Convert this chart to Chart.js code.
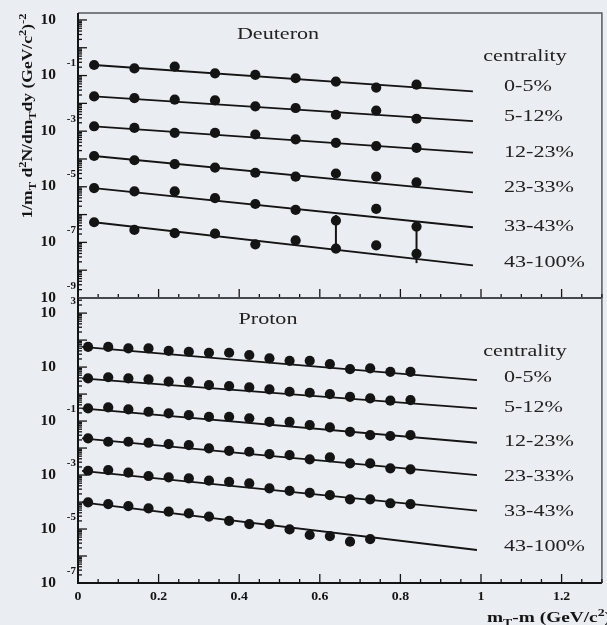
<!DOCTYPE html>
<html>
<head>
<meta charset="utf-8">
<script src="https://cdn.jsdelivr.net/npm/chart.js@4.4.1/dist/chart.umd.min.js"></script>
<style>
  html, body { margin: 0; padding: 0; background: #eaedf2; }
  #wrap { position: relative; width: 607px; height: 625px; overflow: hidden; }
  #topPanel { position: absolute; left: 0; top: 0; }
  #botPanel { position: absolute; left: 0; top: 290px; }
</style>
</head>
<body>
<div id="wrap">
  <canvas id="topPanel" width="607" height="310"></canvas>
  <canvas id="botPanel" width="607" height="335"></canvas>
</div>
<script>
const centralities = ['0-5%', '5-12%', '12-23%', '23-33%', '33-43%', '43-100%'];

// ---- deuteron spectra (9 mT-m bins) ----
const deuteronX = [0.04, 0.14, 0.24, 0.34, 0.44, 0.54, 0.64, 0.74, 0.84];
const deut_0_5   = [2.4e-1, 1.8e-1, 2.1e-1, 1.2e-1, 1.06e-1, 8.0e-2, 6.1e-2, 3.7e-2, 4.7e-2];
const deut_5_12  = [1.78e-2, 1.55e-2, 1.36e-2, 1.28e-2, 7.8e-3, 6.8e-3, 3.9e-3, 5.5e-3, 2.8e-3];
const deut_12_23 = [1.5e-3, 1.31e-3, 8.7e-4, 8.7e-4, 7.6e-4, 5.1e-4, 3.8e-4, 2.9e-4, 2.5e-4];
const deut_23_33 = [1.28e-4, 9.0e-5, 6.5e-5, 4.9e-5, 3.2e-5, 2.3e-5, 3.0e-5, 2.3e-5, 1.43e-5];
const deut_33_43 = [9.0e-6, 6.8e-6, 6.8e-6, 3.9e-6, 2.4e-6, 1.47e-6, 6.1e-7, 1.6e-6, 3.7e-7];
const deut_43_100 = [5.3e-7, 2.8e-7, 2.15e-7, 2.05e-7, 8.5e-8, 1.18e-7, 6.0e-8, 7.8e-8, 3.9e-8];

// exponential fits: value at both ends of the drawn line
const deuteronFitX = [0.04, 0.98];
const deuteronFitStart = [2.4e-1, 1.78e-2, 1.5e-3, 1.28e-4, 9.0e-6, 5.3e-7];
const deuteronFitEnd   = [2.7e-2, 2.28e-3, 1.68e-4, 6.3e-6, 3.5e-7, 1.5e-8];

// the two large error bars (row, bin, high, low)
const deuteronErrRow  = [4, 5];
const deuteronErrBin  = [6, 8];
const deuteronErrHigh = [9.7e-7, 3.9e-7];
const deuteronErrLow  = [8.1e-8, 1.8e-8];

// ---- proton spectra (17 mT-m bins, most peripheral has 15) ----
const protonX = [0.025, 0.075, 0.125, 0.175, 0.225, 0.275, 0.325, 0.375, 0.425,
                 0.475, 0.525, 0.575, 0.625, 0.675, 0.725, 0.775, 0.825];
const prot_0_5   = [56, 56, 49, 49, 40, 37, 34, 34, 28, 21, 17, 17, 12.9, 8.4, 9.0, 6.7, 6.7];
const prot_5_12  = [3.8, 4.2, 3.8, 3.5, 2.9, 2.9, 2.15, 1.98, 1.77, 1.49, 1.22, 1.12, 1.0, 0.79, 0.69, 0.57, 0.60];
const prot_12_23 = [0.295, 0.321, 0.271, 0.221, 0.193, 0.167, 0.144, 0.144, 0.126, 0.094, 0.094, 0.071, 0.058, 0.040, 0.030, 0.028, 0.030];
const prot_23_33 = [0.0229, 0.0171, 0.0171, 0.0157, 0.0141, 0.0129, 0.00975, 0.0079, 0.0073, 0.0060, 0.0055, 0.0038, 0.0045, 0.0027, 0.0027, 0.00177, 0.00163];
const prot_33_43 = [1.44e-3, 1.53e-3, 1.22e-3, 9.2e-4, 8.2e-4, 7.5e-4, 6.2e-4, 5.6e-4, 4.9e-4, 3.2e-4, 2.6e-4, 2.2e-4, 1.8e-4, 1.26e-4, 1.26e-4, 9.0e-5, 8.4e-5];
const prot_43_100 = [9.7e-5, 8.4e-5, 7.1e-5, 5.8e-5, 4.4e-5, 3.8e-5, 2.9e-5, 2.0e-5, 1.53e-5, 1.53e-5, 9.7e-6, 6.0e-6, 5.5e-6, 3.4e-6, 4.2e-6];

const protonFitX = [0.01, 0.99];
const protonFitStart = [56.5, 3.81, 0.295, 0.0229, 1.44e-3, 9.7e-5];
const protonFitEnd   = [3.3, 0.295, 0.0157, 0.001, 4.8e-5, 1.67e-6];

// ---- axes ----
const xTickValues = [0, 0.2, 0.4, 0.6, 0.8, 1, 1.2];
const xTickLabels = ['0', '0.2', '0.4', '0.6', '0.8', '1', '1.2'];
const deuteronYExp = [1, -1, -3, -5, -7, -9];
const protonYExp   = [3, 1, -1, -3, -5, -7];

const INK = '#141414';
const SERIF = '"Liberation Serif", "Times New Roman", serif';

function makeDatasets(xs, rows, fitX, fitStart, fitEnd) {
  const sets = [];
  rows.forEach((row, i) => {
    sets.push({
      label: centralities[i] + ' fit',
      data: [{x: fitX[0], y: fitStart[i]}, {x: fitX[1], y: fitEnd[i]}],
      showLine: true, borderColor: INK, borderWidth: 1.8, pointRadius: 0
    });
    sets.push({
      label: centralities[i],
      data: row.map((v, j) => ({x: xs[j], y: v})),
      showLine: false, pointRadius: 5.1, pointBackgroundColor: INK,
      pointBorderColor: INK, pointBorderWidth: 0
    });
  });
  return sets;
}

// stretched text, the scan is wider than plain Times
function stretchText(ctx, txt, x, y, font, align, sx) {
  ctx.save();
  ctx.translate(x, y);
  ctx.scale(sx, 1);
  ctx.font = font;
  ctx.textAlign = align;
  ctx.textBaseline = 'middle';
  ctx.fillText(txt, 0, 0);
  ctx.restore();
}

// text with sub/superscripts, parts = [text, shift]
function richText(ctx, parts, x, y, size, targetLen, align) {
  const fontFor = s => 'bold ' + (s ? Math.round(size * 0.7) : size) + 'px ' + SERIF;
  let w = 0;
  parts.forEach(p => { ctx.font = fontFor(p[1]); w += ctx.measureText(p[0]).width; });
  const sx = targetLen ? targetLen / w : 1;
  ctx.save();
  ctx.translate(x, y);
  ctx.scale(sx, 1);
  ctx.textAlign = 'left';
  ctx.textBaseline = 'alphabetic';
  let cx = align === 'center' ? -w / 2 : 0;
  parts.forEach(p => {
    ctx.font = fontFor(p[1]);
    const dy = p[1] > 0 ? -size * 0.42 : (p[1] < 0 ? size * 0.28 : 0);
    ctx.fillText(p[0], cx, dy);
    cx += ctx.measureText(p[0]).width;
  });
  ctx.restore();
}

function panelPlugin(cfg) {
  return {
    id: 'panel',
    afterDatasetsDraw(chart) {
      const ctx = chart.ctx, a = chart.chartArea;
      const xs = chart.scales.x, ys = chart.scales.y;
      const oy = cfg.offsetY;
      ctx.save();
      ctx.fillStyle = INK;
      ctx.strokeStyle = INK;

      // error bars
      if (cfg.errRow) {
        ctx.lineWidth = 2;
        cfg.errRow.forEach((r, i) => {
          const px = xs.getPixelForValue(cfg.xs[cfg.errBin[i]]);
          ctx.beginPath();
          ctx.moveTo(px, ys.getPixelForValue(cfg.errHigh[i]));
          ctx.lineTo(px, ys.getPixelForValue(cfg.errLow[i]));
          ctx.stroke();
        });
      }

      // frame
      ctx.strokeStyle = '#555a60';
      ctx.lineWidth = 1.5;
      ctx.beginPath();
      ctx.moveTo(a.left, a.top); ctx.lineTo(a.right, a.top); ctx.lineTo(a.right, a.bottom);
      ctx.stroke();
      ctx.strokeStyle = INK;
      ctx.lineWidth = 2;
      ctx.beginPath();
      ctx.moveTo(a.left, a.top); ctx.lineTo(a.left, a.bottom); ctx.lineTo(a.right, a.bottom);
      ctx.stroke();

      // x ticks pointing inwards, 4 minor steps per major
      ctx.lineWidth = 1.3;
      const step = (xTickValues[1] - xTickValues[0]) / 4;
      for (let k = 0; xTickValues[0] + k * step <= xs.max + 1e-9; k++) {
        const px = xs.getPixelForValue(xTickValues[0] + k * step);
        const len = k % 4 === 0 ? 9 : 4;
        ctx.beginPath(); ctx.moveTo(px, a.bottom); ctx.lineTo(px, a.bottom - len); ctx.stroke();
      }
      // y ticks, decades + 2..9
      const e0 = Math.floor(Math.log10(ys.min)), e1 = Math.ceil(Math.log10(ys.max));
      for (let e = e0; e <= e1; e++) {
        for (let m = 1; m <= 9; m++) {
          const v = m * Math.pow(10, e);
          if (v < ys.min || v > ys.max) continue;
          const py = ys.getPixelForValue(v);
          const len = m === 1 ? 9 : 4;
          ctx.beginPath(); ctx.moveTo(a.left, py); ctx.lineTo(a.left + len, py); ctx.stroke();
        }
      }

      // y tick labels: "10" and exponent
      cfg.yExp.forEach(e => {
        const py = ys.getPixelForValue(Math.pow(10, e));
        stretchText(ctx, '10', 56, py, 'bold 14px ' + SERIF, 'right', 1.1);
        if (e !== 1) stretchText(ctx, String(e), 76, py - 12, 'bold 10px ' + SERIF, 'right', 1.1);
      });

      // x tick labels only under the lower panel
      if (cfg.xLabels) {
        xTickValues.forEach((v, i) => {
          stretchText(ctx, xTickLabels[i], xs.getPixelForValue(v), 597 - oy, 'bold 12px ' + SERIF, 'center', 1.15);
        });
        richText(ctx, [['m', 0], ['T', -1], ['-m (GeV/c', 0], ['2', 1], [')', 0]],
                 487, 622 - oy, 14, 124, 'left');
      }

      // panel name and centrality legend
      ctx.fillStyle = '#222222';
      const f = '17px ' + SERIF;
      stretchText(ctx, cfg.name, cfg.nameX, cfg.nameY - oy, f, 'center', 1.3);
      stretchText(ctx, 'centrality', 525, cfg.legTitleY - oy, f, 'center', 1.3);
      cfg.legY.forEach((ly, i) => {
        stretchText(ctx, centralities[i], 504, ly - oy, f, 'left', 1.3);
      });

      // y axis title, only once on the upper canvas
      if (cfg.yTitle) {
        ctx.fillStyle = INK;
        ctx.save();
        ctx.translate(27, 116);
        ctx.rotate(-Math.PI / 2);
        richText(ctx, [['1/m', 0], ['T', -1], [' d', 0], ['2', 1], ['N/dm', 0], ['T', -1],
                       ['dy (GeV/c', 0], ['2', 1], [')', 0], ['-2', 1]],
                 0, 5, 14, 205, 'center');
        ctx.restore();
      }
      ctx.restore();
    }
  };
}

function makeChart(id, datasets, cfg) {
  return new Chart(document.getElementById(id), {
    type: 'scatter',
    data: { datasets: datasets },
    options: {
      responsive: false,
      animation: false,
      devicePixelRatio: 1,
      layout: { padding: cfg.padding },
      plugins: { legend: { display: false }, tooltip: { enabled: false } },
      scales: {
        x: { type: 'linear', display: false, min: 0, max: 1.3, bounds: 'data' },
        y: { type: 'logarithmic', display: false, min: cfg.yMin, max: cfg.yMax, bounds: 'data' }
      }
    },
    plugins: [panelPlugin(cfg)]
  });
}

makeChart('topPanel',
  makeDatasets(deuteronX, [deut_0_5, deut_5_12, deut_12_23, deut_23_33, deut_33_43, deut_43_100],
               deuteronFitX, deuteronFitStart, deuteronFitEnd),
  {
    offsetY: 0,
    padding: { left: 78, right: 3, top: 13, bottom: 12 },
    yMin: 1e-9, yMax: Math.pow(10, 1.25),
    yExp: deuteronYExp,
    xs: deuteronX,
    errRow: deuteronErrRow, errBin: deuteronErrBin, errHigh: deuteronErrHigh, errLow: deuteronErrLow,
    name: 'Deuteron', nameX: 278, nameY: 35,
    legTitleY: 57, legY: [87, 117, 153, 188, 227, 263],
    yTitle: true
  });

makeChart('botPanel',
  makeDatasets(protonX, [prot_0_5, prot_5_12, prot_12_23, prot_23_33, prot_33_43, prot_43_100],
               protonFitX, protonFitStart, protonFitEnd),
  {
    offsetY: 290,
    padding: { left: 78, right: 3, top: 8, bottom: 42 },
    yMin: 1e-7, yMax: Math.pow(10, 3.56),
    yExp: protonYExp,
    xs: protonX,
    xLabels: true,
    name: 'Proton', nameX: 268, nameY: 320,
    legTitleY: 352, legY: [378, 408, 442, 477, 512, 547]
  });
</script>
</body>
</html>
